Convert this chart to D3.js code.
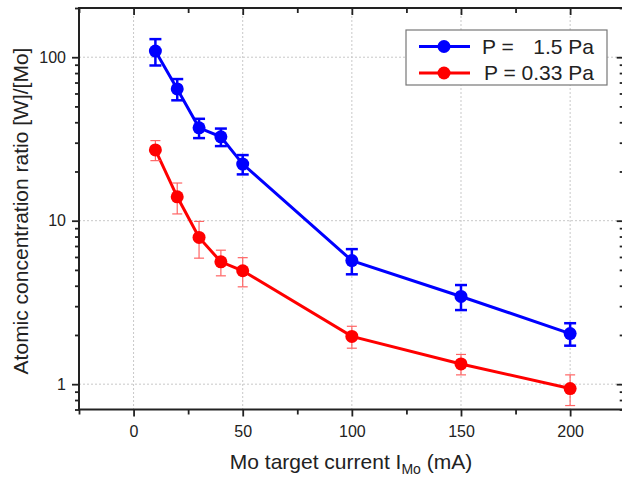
<!DOCTYPE html>
<html>
<head>
<meta charset="utf-8">
<script src="https://cdn.jsdelivr.net/npm/d3@7"></script>
<style>
html,body{margin:0;padding:0;background:#fff;}
svg{display:block;font-family:"Liberation Sans",Arial,sans-serif;}
</style>
</head>
<body>
<svg id="chart" width="622" height="480"></svg>
<script>
// ---- data ----
const current = [10, 20, 30, 40, 50, 100, 150, 200];
const ratioHigh = [109, 64, 37, 32.6, 22.2, 5.7, 3.44, 2.04];   // P = 1.5 Pa
const errHigh   = [20, 9.5, 5, 4, 3, 1, 0.6, 0.32];
const ratioLow  = [27.1, 14.0, 7.9, 5.6, 4.94, 1.96, 1.33, 0.94]; // P = 0.33 Pa
const errLow    = [3.8, 3, 2, 1, 1, 0.3, 0.19, 0.2];
const xTicks = [0, 50, 100, 150, 200];
const xMinorTicks = [-25, 25, 75, 125, 175, 225];
const yTicks = [1, 10, 100];
const seriesNames = ["1.5 Pa", "0.33 Pa"];
const seriesColors = ["#0000ff", "#ff0000"];

const svg = d3.select("#chart");
const L = 79, R = 624.7, T = 8, B = 409.5;
const x = d3.scaleLinear().domain([-25, 225]).range([L, R]);
const y = d3.scaleLog().domain([0.7, 200]).range([B, T]);

const yMinor = [];
[0.1, 1, 10, 100].forEach(d => { for (let k = 2; k <= 9; k++) { const v = d * k; if (v >= 0.7 && v <= 200) yMinor.push(v); } });

// grid
const grid = svg.append("g").attr("stroke", "#c8c8c8").attr("stroke-width", 1).attr("stroke-dasharray", "2,2");
grid.selectAll("line.gx").data(xTicks).join("line")
  .attr("x1", d => x(d)).attr("x2", d => x(d)).attr("y1", T).attr("y2", B);
grid.selectAll("line.gy").data(yTicks).join("line")
  .attr("y1", d => y(d)).attr("y2", d => y(d)).attr("x1", L).attr("x2", R);

function styleAxis(g) {
  g.selectAll(".domain").remove();
  g.selectAll(".tick line").attr("stroke", "#222").attr("stroke-width", 1.8);
  g.selectAll(".tick text").attr("fill", "#222").attr("font-size", 16)
    .attr("font-family", "'Liberation Sans', Arial, sans-serif");
}

// bottom axis
svg.append("g").attr("transform", `translate(0,${B})`)
  .call(d3.axisBottom(x).tickValues(xTicks).tickSize(7).tickPadding(9).tickFormat(d3.format("d"))).call(styleAxis);
svg.append("g").attr("transform", `translate(0,${B})`)
  .call(d3.axisBottom(x).tickValues(xMinorTicks).tickSize(5).tickFormat("")).call(styleAxis);
// top axis (inward)
svg.append("g").attr("transform", `translate(0,${T})`)
  .call(d3.axisBottom(x).tickValues(xTicks).tickSize(7).tickFormat("")).call(styleAxis);
svg.append("g").attr("transform", `translate(0,${T})`)
  .call(d3.axisBottom(x).tickValues(xMinorTicks).tickSize(5).tickFormat("")).call(styleAxis);
// left axis
svg.append("g").attr("transform", `translate(${L},0)`)
  .call(d3.axisLeft(y).tickValues(yTicks).tickSize(7).tickPadding(6).tickFormat(d3.format("d"))).call(styleAxis);
svg.append("g").attr("transform", `translate(${L},0)`)
  .call(d3.axisLeft(y).tickValues(yMinor).tickSize(4).tickFormat("")).call(styleAxis);
// right axis (inward)
svg.append("g").attr("transform", `translate(${R},0)`)
  .call(d3.axisLeft(y).tickValues(yTicks).tickSize(8).tickFormat("")).call(styleAxis);
svg.append("g").attr("transform", `translate(${R},0)`)
  .call(d3.axisLeft(y).tickValues(yMinor).tickSize(5).tickFormat("")).call(styleAxis);

// frame
svg.append("rect").attr("x", L).attr("y", T).attr("width", R - L).attr("height", B - T)
  .attr("fill", "none").attr("stroke", "#222").attr("stroke-width", 2);

// series
const series = [
  { vals: ratioHigh, errs: errHigh, color: seriesColors[0], ebColor: "#0000ff", ebW: 2.5, cap: 6 },
  { vals: ratioLow, errs: errLow, color: seriesColors[1], ebColor: "#ff6464", ebW: 1.2, cap: 5 }
];
const line = d3.line().x(d => x(d[0])).y(d => y(d[1]));
series.forEach(s => {
  const pts = current.map((c, i) => [c, s.vals[i], s.errs[i]]);
  svg.append("path").datum(pts).attr("d", line).attr("fill", "none")
    .attr("stroke", s.color).attr("stroke-width", 3);
  const eb = svg.append("g").attr("stroke", s.ebColor).attr("stroke-width", s.ebW).attr("fill", "none");
  pts.forEach(p => {
    const cx = x(p[0]), y1 = y(p[1] + p[2]), y2 = y(p[1] - p[2]);
    eb.append("line").attr("x1", cx).attr("x2", cx).attr("y1", y1).attr("y2", y2);
    eb.append("line").attr("x1", cx - s.cap).attr("x2", cx + s.cap).attr("y1", y1).attr("y2", y1);
    eb.append("line").attr("x1", cx - s.cap).attr("x2", cx + s.cap).attr("y1", y2).attr("y2", y2);
  });
  svg.append("g").selectAll("circle").data(pts).join("circle")
    .attr("cx", d => x(d[0])).attr("cy", d => y(d[1])).attr("r", 6.5).attr("fill", s.color);
});

// legend
const lg = svg.append("g");
lg.append("rect").attr("x", 406).attr("y", 30).attr("width", 201).attr("height", 55)
  .attr("fill", "#fff").attr("stroke", "#777").attr("stroke-width", 1.2);
seriesNames.forEach((n, i) => {
  const cy = 46.5 + i * 26.5;
  lg.append("line").attr("x1", 419).attr("x2", 470).attr("y1", cy).attr("y2", cy)
    .attr("stroke", seriesColors[i]).attr("stroke-width", 3);
  lg.append("circle").attr("cx", 444).attr("cy", cy).attr("r", 6.5).attr("fill", seriesColors[i]);
  if (i === 0) {
    lg.append("text").attr("x", 482).attr("y", cy + 7).attr("font-size", 21).attr("fill", "#222").text("P =");
    lg.append("text").attr("x", 594).attr("y", cy + 7).attr("font-size", 21).attr("fill", "#222")
      .attr("text-anchor", "end").text(n);
  } else {
    lg.append("text").attr("x", 594).attr("y", cy + 7).attr("font-size", 21).attr("fill", "#222")
      .attr("text-anchor", "end").text("P = " + n);
  }
});

// axis titles
const xt = svg.append("text").attr("x", 351).attr("y", 469).attr("text-anchor", "middle")
  .attr("font-size", 21).attr("fill", "#222");
xt.append("tspan").text("Mo target current I");
xt.append("tspan").attr("font-size", 14).attr("dy", 5).text("Mo");
xt.append("tspan").attr("dy", -5).text(" (mA)");

svg.append("text").attr("transform", "translate(28,211) rotate(-90)").attr("text-anchor", "middle")
  .attr("font-size", 21).attr("fill", "#222").text("Atomic concentration ratio [W]/[Mo]");
</script>
</body>
</html>
